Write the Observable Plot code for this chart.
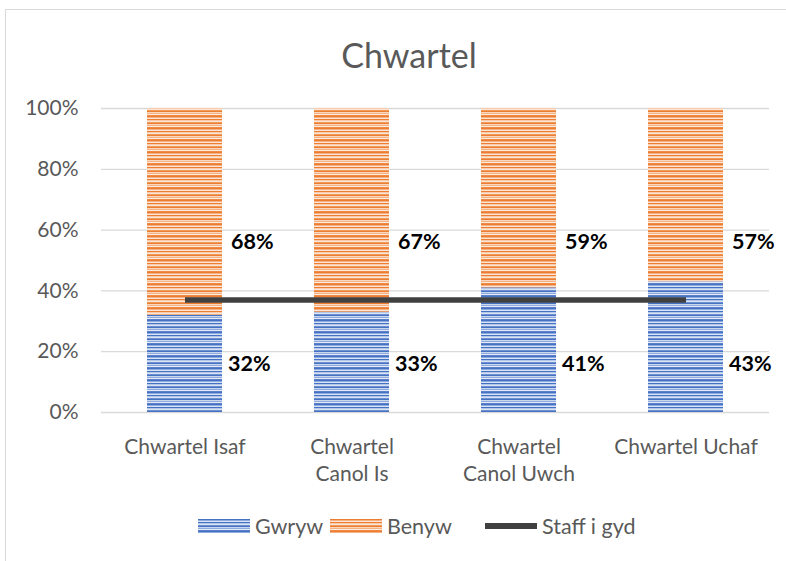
<!DOCTYPE html>
<html>
<head>
<meta charset="utf-8">
<script src="https://cdn.jsdelivr.net/npm/d3@7"></script>
<script src="https://cdn.jsdelivr.net/npm/@observablehq/plot@0.6"></script>
<style>
  html, body { margin: 0; padding: 0; background: #fff; }
  #page { position: relative; width: 786px; height: 561px; overflow: hidden; font-family: Lato, "Open Sans", sans-serif; }
  #frame { position: absolute; left: 5px; top: 9px; width: 900px; height: 700px; border: 1.5px solid #d9d9d9; box-sizing: border-box; }
  #title { position: absolute; left: 0; top: 38px; width: 818px; text-align: center; font-size: 34px; color: #595959; line-height: 1; }
  #chart { position: absolute; left: 0; top: 80px; }
  #legend { position: absolute; top: 513px; left: 0; width: 786px; height: 26px; font-size: 21.5px; color: #595959; }
  .li { position: absolute; top: 0; display: flex; align-items: center; height: 26px; }
  .sw { display: inline-block; margin-right: 5px; }
</style>
</head>
<body>
<svg width="0" height="0" style="position:absolute">
  <defs>
    <pattern id="pGwryw" patternUnits="userSpaceOnUse" width="800" height="12">
      <rect y="0" width="800" height="1" fill="#4472C4"/>
      <rect y="1" width="800" height="1" fill="#8FAADC"/>
      <rect y="2" width="800" height="1" fill="#DAE3F3"/>
      <rect y="3" width="800" height="1" fill="#4472C4"/>
      <rect y="4" width="800" height="1" fill="#B4C7E7"/>
      <rect y="5" width="800" height="1" fill="#DAE3F3"/>
      <rect y="6" width="800" height="1" fill="#6F8FD0"/>
      <rect y="7" width="800" height="1" fill="#4472C4"/>
      <rect y="8" width="800" height="1" fill="#C9D6EE"/>
      <rect y="9" width="800" height="1" fill="#8FAADC"/>
      <rect y="10" width="800" height="1" fill="#E4EBF7"/>
      <rect y="11" width="800" height="1" fill="#5B80C9"/>
    </pattern>
    <pattern id="pBenyw" patternUnits="userSpaceOnUse" width="800" height="12">
      <rect y="0" width="800" height="1" fill="#ED7D31"/>
      <rect y="1" width="800" height="1" fill="#F4B183"/>
      <rect y="2" width="800" height="1" fill="#FBE5D6"/>
      <rect y="3" width="800" height="1" fill="#ED7D31"/>
      <rect y="4" width="800" height="1" fill="#F8CBAD"/>
      <rect y="5" width="800" height="1" fill="#FBE5D6"/>
      <rect y="6" width="800" height="1" fill="#F09A5C"/>
      <rect y="7" width="800" height="1" fill="#ED7D31"/>
      <rect y="8" width="800" height="1" fill="#F9D6BE"/>
      <rect y="9" width="800" height="1" fill="#F4B183"/>
      <rect y="10" width="800" height="1" fill="#FCEBDF"/>
      <rect y="11" width="800" height="1" fill="#EF8A45"/>
    </pattern>
  </defs>
</svg>
<div id="page">
  <div id="frame"></div>
  <div id="title">Chwartel</div>
  <div id="chart"></div>
  <div id="legend"></div>
</div>
<script>
// ---- data ----
const categories = ["Chwartel Isaf", "Chwartel Canol Is", "Chwartel Canol Uwch", "Chwartel Uchaf"];
const tickLabels = ["Chwartel Isaf", "Chwartel\nCanol Is", "Chwartel\nCanol Uwch", "Chwartel Uchaf"];
const gwryw = [32, 33, 41, 43];
const benyw = [68, 67, 59, 57];
const staffIGyd = [37, 37, 37, 37];
const yTicks = [0, 20, 40, 60, 80, 100];
const seriesNames = ["Gwryw", "Benyw", "Staff i gyd"];

const rows = categories.map((c, i) => ({cat: c, g: gwryw[i], b: benyw[i], s: staffIGyd[i]}));

const font = "Lato, 'Open Sans', sans-serif";
const chart = Plot.plot({
  width: 786,
  height: 420,
  marginTop: 28,
  marginBottom: 88,
  marginLeft: 101,
  marginRight: 17,
  style: {fontFamily: font, fontSize: "21px", color: "#595959", background: "transparent"},
  x: {domain: categories, paddingInner: 0.55, paddingOuter: 0.275, label: null},
  y: {domain: [0, 100], label: null},
  marks: [
    Plot.gridY(yTicks, {stroke: "#d9d9d9", strokeOpacity: 1, strokeWidth: 1.3}),
    Plot.axisY(yTicks, {tickSize: 0, tickPadding: 23, tickFormat: d => d + "%", fontSize: 21, fill: "#595959", label: null}),
    Plot.axisX({tickSize: 0, tickPadding: 22, tickFormat: (d, i) => tickLabels[categories.indexOf(d)], lineHeight: 1.3, fontSize: 21, fill: "#595959", label: null}),
    Plot.barY(rows, {x: "cat", y1: 0, y2: "g", fill: "url(#pGwryw)"}),
    Plot.barY(rows, {x: "cat", y1: "g", y2: d => d.g + d.b, fill: "url(#pBenyw)"}),
    Plot.lineY(rows, {x: "cat", y: "s", stroke: "#404040", strokeWidth: 5.5, strokeLinecap: "butt"}),
    Plot.text(rows, {x: "cat", y: () => 16, text: d => d.g + "%", textAnchor: "start", dx: 43, fontWeight: "bold", fontSize: 21.5, fill: "#000"}),
    Plot.text(rows, {x: "cat", y: () => 56, text: d => d.b + "%", textAnchor: "start", dx: 46, fontWeight: "bold", fontSize: 21.5, fill: "#000"})
  ]
});
document.getElementById("chart").appendChild(chart);

// ---- legend ----
const legend = document.getElementById("legend");
const legendX = [198, 330, 485];
seriesNames.forEach((name, i) => {
  const item = document.createElement("div");
  item.className = "li";
  item.style.left = legendX[i] + "px";
  let sw;
  if (i < 2) {
    sw = `<svg class="sw" width="52" height="14"><rect width="52" height="14" fill="url(#${i === 0 ? "pGwryw" : "pBenyw"})"/></svg>`;
  } else {
    sw = `<svg class="sw" width="52" height="14"><rect y="4" width="52" height="6" fill="#404040"/></svg>`;
  }
  item.innerHTML = sw + `<span>${name}</span>`;
  legend.appendChild(item);
});
</script>
</body>
</html>
